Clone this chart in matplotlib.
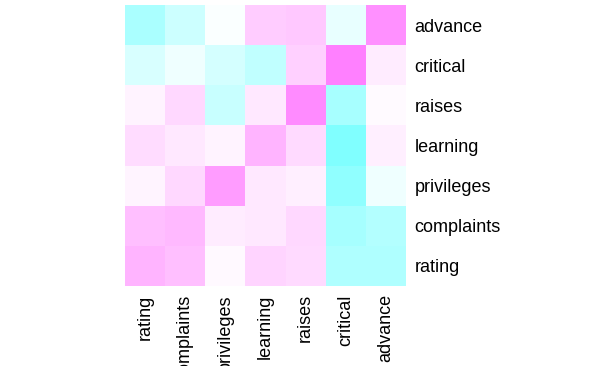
import numpy as np
import matplotlib.pyplot as plt
from matplotlib.colors import LinearSegmentedColormap

plt.rcParams['font.family'] = ['Liberation Sans', 'DejaVu Sans']

labels = ["rating", "complaints", "privileges", "learning", "raises", "critical", "advance"]

# cell values, scaled to [-1, 1]
# rows bottom -> top (rating ... advance), cols left -> right
values = np.array([
    [0.59, 0.50, 0.05, 0.34, 0.29, -0.63, -0.63],   # rating
    [0.50, 0.55, 0.15, 0.18, 0.31, -0.70, -0.60],   # complaints
    [0.09, 0.31, 0.78, 0.18, 0.13, -0.87, -0.13],   # privileges
    [0.28, 0.18, 0.10, 0.59, 0.29, -1.00, 0.13],    # learning
    [0.10, 0.31, -0.43, 0.18, 0.91, -0.69, 0.04],   # raises
    [-0.31, -0.13, -0.34, -0.50, 0.37, 1.00, 0.15],  # critical
    [-0.67, -0.40, -0.04, 0.40, 0.43, -0.18, 0.87],  # advance
])

# R cm.colors
cmap = LinearSegmentedColormap.from_list("cm", ["#80FFFF", "#FFFFFF", "#FF80FF"], N=256)

fig = plt.figure(figsize=(6.06, 3.66), dpi=100)
ax = fig.add_axes([125 / 606, 1 - 286 / 366, 281 / 606, 281 / 366])
n = len(labels)
ax.pcolormesh(np.arange(n + 1), np.arange(n + 1), values, cmap=cmap, vmin=-1, vmax=1)
ax.set_xlim(0, n)
ax.set_ylim(0, n)
for s in ax.spines.values():
    s.set_visible(False)
ax.set_xticks(np.arange(n) + 0.5)
ax.set_xticklabels(labels, rotation=90, fontsize=13)
ax.yaxis.tick_right()
ax.set_yticks(np.arange(n) + 0.5)
ax.set_yticklabels(labels, fontsize=13)
ax.tick_params(length=0, pad=6)

fig.savefig("out.png", dpi=100)
